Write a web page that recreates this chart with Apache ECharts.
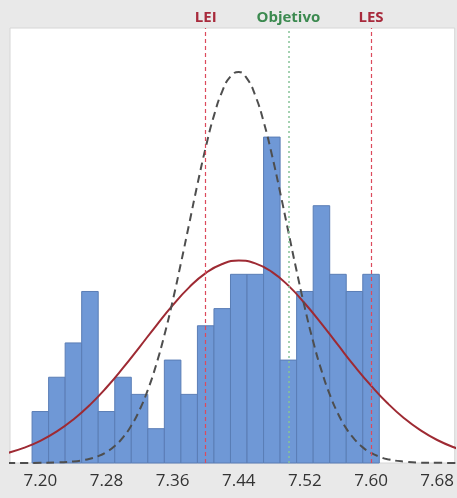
<!DOCTYPE html>
<html>
<head>
<meta charset="utf-8">
<script src="https://cdn.jsdelivr.net/npm/echarts@6/dist/echarts.min.js"></script>
<style>
html,body{margin:0;padding:0;background:#e9e9e9;}
#chart{width:457px;height:498px;}
</style>
</head>
<body>
<div id="chart"></div>
<script>
// Histogram bins (centres) and counts
const binCenters = [7.20,7.22,7.24,7.26,7.28,7.30,7.32,7.34,7.36,7.38,7.40,7.42,7.44,7.46,7.48,7.50,7.52,7.54,7.56,7.58,7.60];
const binCounts  = [3,5,7,10,3,5,4,2,6,4,8,9,11,11,19,6,10,15,11,10,11];
const binWidth = 0.02;

// Overall fitted curve (solid red)
const overallX = [7.16,7.18,7.20,7.22,7.24,7.26,7.28,7.30,7.32,7.34,7.36,7.38,7.40,7.42,7.44,7.46,7.48,7.50,7.52,7.54,7.56,7.58,7.60,7.62,7.64,7.66,7.68,7.70,7.72];
const overallY = [0.58,0.88,1.29,1.84,2.54,3.39,4.40,5.54,6.76,8.00,9.19,10.24,11.07,11.60,11.80,11.64,11.14,10.34,9.30,8.13,6.88,5.65,4.51,3.48,2.61,1.90,1.34,0.92,0.61];

// Within fitted curve (dashed dark grey)
const withinX = [7.16,7.20,7.22,7.24,7.25,7.26,7.27,7.28,7.29,7.30,7.31,7.32,7.33,7.34,7.35,7.36,7.37,7.38,7.39,7.40,7.41,7.42,7.43,7.44,7.45,7.46,7.47,7.48,7.49,7.50,7.51,7.52,7.53,7.54,7.55,7.56,7.57,7.58,7.59,7.60,7.61,7.62,7.64,7.66,7.68,7.72];
const withinY = [0.0,0.01,0.03,0.09,0.15,0.25,0.40,0.64,0.99,1.49,2.18,3.09,4.26,5.71,7.45,9.44,11.64,13.94,16.24,18.39,20.25,21.67,22.54,22.80,22.41,21.42,19.91,17.98,15.79,13.48,11.19,9.03,7.08,5.40,4.00,2.88,2.02,1.38,0.91,0.59,0.37,0.22,0.08,0.02,0.01,0.0];

// Specification lines
const specNames  = ['LEI','Objetivo','LES'];
const specValues = [7.40, 7.50, 7.60];

// Axis tick labels
const tickValues = [7.20,7.28,7.36,7.44,7.52,7.60,7.68];

const chart = echarts.init(document.getElementById('chart'), null, {renderer:'canvas'});

const barData = binCenters.map((c,i)=>[c, binCounts[i]]);
const pair = (xs,ys)=>xs.map((x,i)=>[x, ys[i]]);

const red = '#a82a3c';
const green = '#3c8a50';

const specSeries = specValues.map((v,i)=>({
  type: 'line',
  data: [],
  z: 1,
  markLine: {
    symbol: 'none',
    silent: true,
    animation: false,
    lineStyle: i===1
      ? {color:'#86c398', type:[2,3], width:1.5, opacity:1}
      : {color:'#dc4a5c', type:[4,3], width:1.2, opacity:1},
    emphasis: {disabled: true},
    label: {
      show: true,
      position: 'end',
      formatter: specNames[i],
      color: i===1 ? green : red,
      fontSize: 15,
      fontWeight: 'bold',
      fontFamily: 'Open Sans',
      distance: 3
    },
    data: [{xAxis: v}]
  }
}));

const option = {
  backgroundColor: '#e9e9e9',
  animation: false,
  grid: {
    left: 10, right: 0, top: 28, bottom: 35,
    show: true, backgroundColor: '#ffffff', borderColor: '#d6d6d6', borderWidth: 1
  },
  xAxis: {
    type: 'value',
    min: 7.1633,
    max: 7.7012,
    splitLine: {show:false},
    axisLine: {show:false},
    axisTick: {show:false},
    axisLabel: {
      customValues: tickValues,
      formatter: v => v.toFixed(2),
      color: '#333333',
      fontSize: 17,
      fontFamily: 'Open Sans',
      margin: 10
    }
  },
  yAxis: {
    type: 'value',
    min: 0,
    max: 25.36,
    show: false,
    splitLine: {show:false}
  },
  series: specSeries.concat([
    {
      type: 'custom',
      z: 2,
      data: barData,
      renderItem: function(params, api){
        const x = api.value(0), y = api.value(1);
        const p1 = api.coord([x - binWidth/2, y]);
        const p2 = api.coord([x + binWidth/2, 0]);
        return {
          type: 'rect',
          shape: {x: p1[0], y: p1[1], width: p2[0]-p1[0], height: p2[1]-p1[1]},
          style: {fill: '#6f98d6', stroke: '#5a7db5', lineWidth: 1}
        };
      }
    },
    {
      type: 'line',
      z: 3,
      data: pair(overallX, overallY),
      smooth: true,
      showSymbol: false,
      lineStyle: {color: '#9e2a33', width: 2}
    },
    {
      type: 'line',
      z: 4,
      data: pair(withinX, withinY),
      smooth: true,
      showSymbol: false,
      lineStyle: {color: '#4e4e4e', width: 2, type: [8,5]}
    }
  ])
};
chart.setOption(option);
</script>
</body>
</html>
